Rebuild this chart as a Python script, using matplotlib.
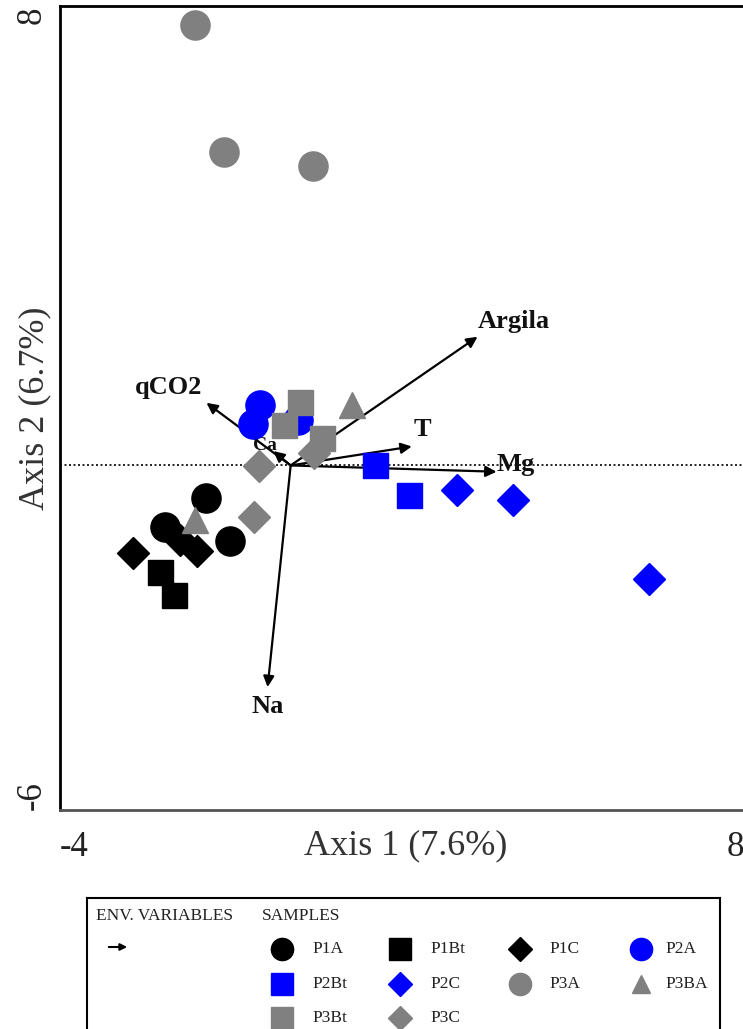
import matplotlib
matplotlib.use('Agg')
import matplotlib.pyplot as plt
from matplotlib.patches import FancyArrowPatch
from matplotlib.transforms import ScaledTranslation

plt.rcParams['font.family'] = ['Liberation Serif', 'DejaVu Serif']

# ---------------- data ----------------
P1A_x = [-2.18, -1.46, -1.06]
P1A_y = [-1.07, -0.56, -1.31]
P1Bt_x = [-2.27, -2.03]
P1Bt_y = [-1.85, -2.26]
P1C_x = [-2.74, -1.92, -1.63]
P1C_y = [-1.52, -1.30, -1.49]
P2A_x = [-0.54, -0.66, 0.12]
P2A_y = [1.06, 0.72, 0.79]
P2Bt_x = [1.46, 2.06]
P2Bt_y = [0.01, -0.51]
P2C_x = [2.88, 3.85, 6.22]
P2C_y = [-0.43, -0.60, -1.98]
P3A_x = [-1.66, -1.16, 0.38]
P3A_y = [7.67, 5.46, 5.22]
P3BA_x = [1.06, -1.66]
P3BA_y = [1.06, -0.95]
P3Bt_x = [0.16, -0.12, 0.55]
P3Bt_y = [1.11, 0.71, 0.48]
P3C_x = [0.40, -0.55, -0.64]
P3C_y = [0.22, -0.01, -0.90]

env_names = ['Argila', 'qCO2', 'T', 'Mg', 'Na', 'Ca']
env_x = [3.24, -1.46, 2.10, 3.57, -0.40, -0.30]
env_y = [2.24, 1.09, 0.33, -0.11, -3.86, 0.25]

x_ticks = [-4, 8]
y_ticks = [-6, 8]
x_label = 'Axis 1 (7.6%)'
y_label = 'Axis 2 (6.7%)'

# ---------------- styles ----------------
groups = [
    ('P1A', P1A_x, P1A_y, 'o', 'black', 21),
    ('P1Bt', P1Bt_x, P1Bt_y, 's', 'black', 18),
    ('P1C', P1C_x, P1C_y, 'D', 'black', 16.5),
    ('P2A', P2A_x, P2A_y, 'o', '#0000FF', 21),
    ('P2Bt', P2Bt_x, P2Bt_y, 's', '#0000FF', 18),
    ('P2C', P2C_x, P2C_y, 'D', '#0000FF', 16.5),
    ('P3A', P3A_x, P3A_y, 'o', '#808080', 21),
    ('P3BA', P3BA_x, P3BA_y, '^', '#808080', 19),
    ('P3Bt', P3Bt_x, P3Bt_y, 's', '#808080', 18),
    ('P3C', P3C_x, P3C_y, 'D', '#808080', 16.5),
]

env_label_pos = {
    'Argila': (3.24, 2.50, 'left', 'center', 19),
    'qCO2': (-2.11, 1.35, 'center', 'center', 19),
    'T': (2.29, 0.62, 'center', 'center', 19),
    'Mg': (3.57, 0.01, 'left', 'center', 19),
    'Na': (-0.40, -4.19, 'center', 'center', 19),
    'Ca': (-0.45, 0.34, 'center', 'center', 14),
}

W, H, DPI = 743, 1029, 100
fig = plt.figure(figsize=(W / DPI, H / DPI), dpi=DPI)

L, R, T_, B = 60, 752, 6, 810
ax = fig.add_axes([L / W, 1 - B / H, (R - L) / W, (B - T_) / H])
ax.set_xlim(-4, 8)
ax.set_ylim(-6, 8)

ax.axhline(0, color='black', ls=(0, (1.2, 1.5)), lw=1.2, zorder=1)

for name, ex, ey in zip(env_names, env_x, env_y):
    arr = FancyArrowPatch((0, 0), (ex, ey), arrowstyle='-|>', mutation_scale=16,
                          color='black', lw=1.6, zorder=2, shrinkA=0, shrinkB=0)
    ax.add_patch(arr)
    lx, ly, ha, va, fs = env_label_pos[name]
    ax.text(lx, ly, name, ha=ha, va=va, fontsize=fs, fontweight='bold',
            color='#111111', zorder=2)

for name, xs, ys, m, c, ms in groups:
    ax.plot(xs, ys, ls='none', marker=m, ms=ms, color=c, mec=c, zorder=3)

for sp in ax.spines.values():
    sp.set_linewidth(2.0)
ax.spines['bottom'].set_color('#555555')

ax.set_xticks(x_ticks)
ax.set_yticks(y_ticks)
ax.set_xticklabels([str(t) for t in x_ticks], fontsize=25, color='#222222')
ax.set_yticklabels([str(t) for t in y_ticks], fontsize=25, color='#222222', rotation=90)
ax.tick_params(axis='both', length=0)
ax.tick_params(axis='x', pad=15)
ax.tick_params(axis='y', pad=8)
xl = ax.get_xticklabels()
xl[0].set_ha('left')
xl[-1].set_ha('right')
xl[-1].set_transform(xl[-1].get_transform() + ScaledTranslation(-6 / 72, 0, fig.dpi_scale_trans))
yl = ax.get_yticklabels()
yl[0].set_va('bottom')
yl[-1].set_va('top')
for t in yl:
    t.set_ha('right')

ax.set_xlabel(x_label, fontsize=26, color='#333333')
ax.xaxis.set_label_coords(0.5, -0.044)
ax.xaxis.label.set_va('center')
ax.set_ylabel(y_label, fontsize=26, color='#333333')
ax.yaxis.set_label_coords(-0.036, 0.5)
ax.yaxis.label.set_va('center')

# ---------------- legend box ----------------
LL, LR, LT, LB = 87, 720, 898, 1045
lax = fig.add_axes([LL / W, 1 - LB / H, (LR - LL) / W, (LB - LT) / H])
lax.set_xlim(LL, LR)
lax.set_ylim(LB, LT)
lax.set_xticks([])
lax.set_yticks([])
for sp in lax.spines.values():
    sp.set_linewidth(1.5)

lfs = 12.5
lax.text(96, 916, 'ENV. VARIABLES', fontsize=lfs, va='center', ha='left', color='#222222')
lax.text(262, 916, 'SAMPLES', fontsize=lfs, va='center', ha='left', color='#222222')
lax.annotate('', xy=(130, 947), xytext=(106, 947),
             arrowprops=dict(arrowstyle='-|>', color='black', lw=1.5, mutation_scale=10))

mark_x = [282, 400, 520, 641]
lab_x = [312, 430, 549, 665]
row_y = [949, 984, 1018]
leg_ms = {'o': 16, 's': 16, 'D': 12.5, '^': 13}
for i, (name, xs, ys, m, c, ms) in enumerate(groups):
    r, col = divmod(i, 4)
    lax.plot([mark_x[col]], [row_y[r]], ls='none', marker=m, ms=leg_ms[m], color=c, mec=c)
    lax.text(lab_x[col], row_y[r], name, fontsize=lfs, va='center', ha='left', color='#222222')

fig.savefig('out.png', dpi=DPI)
